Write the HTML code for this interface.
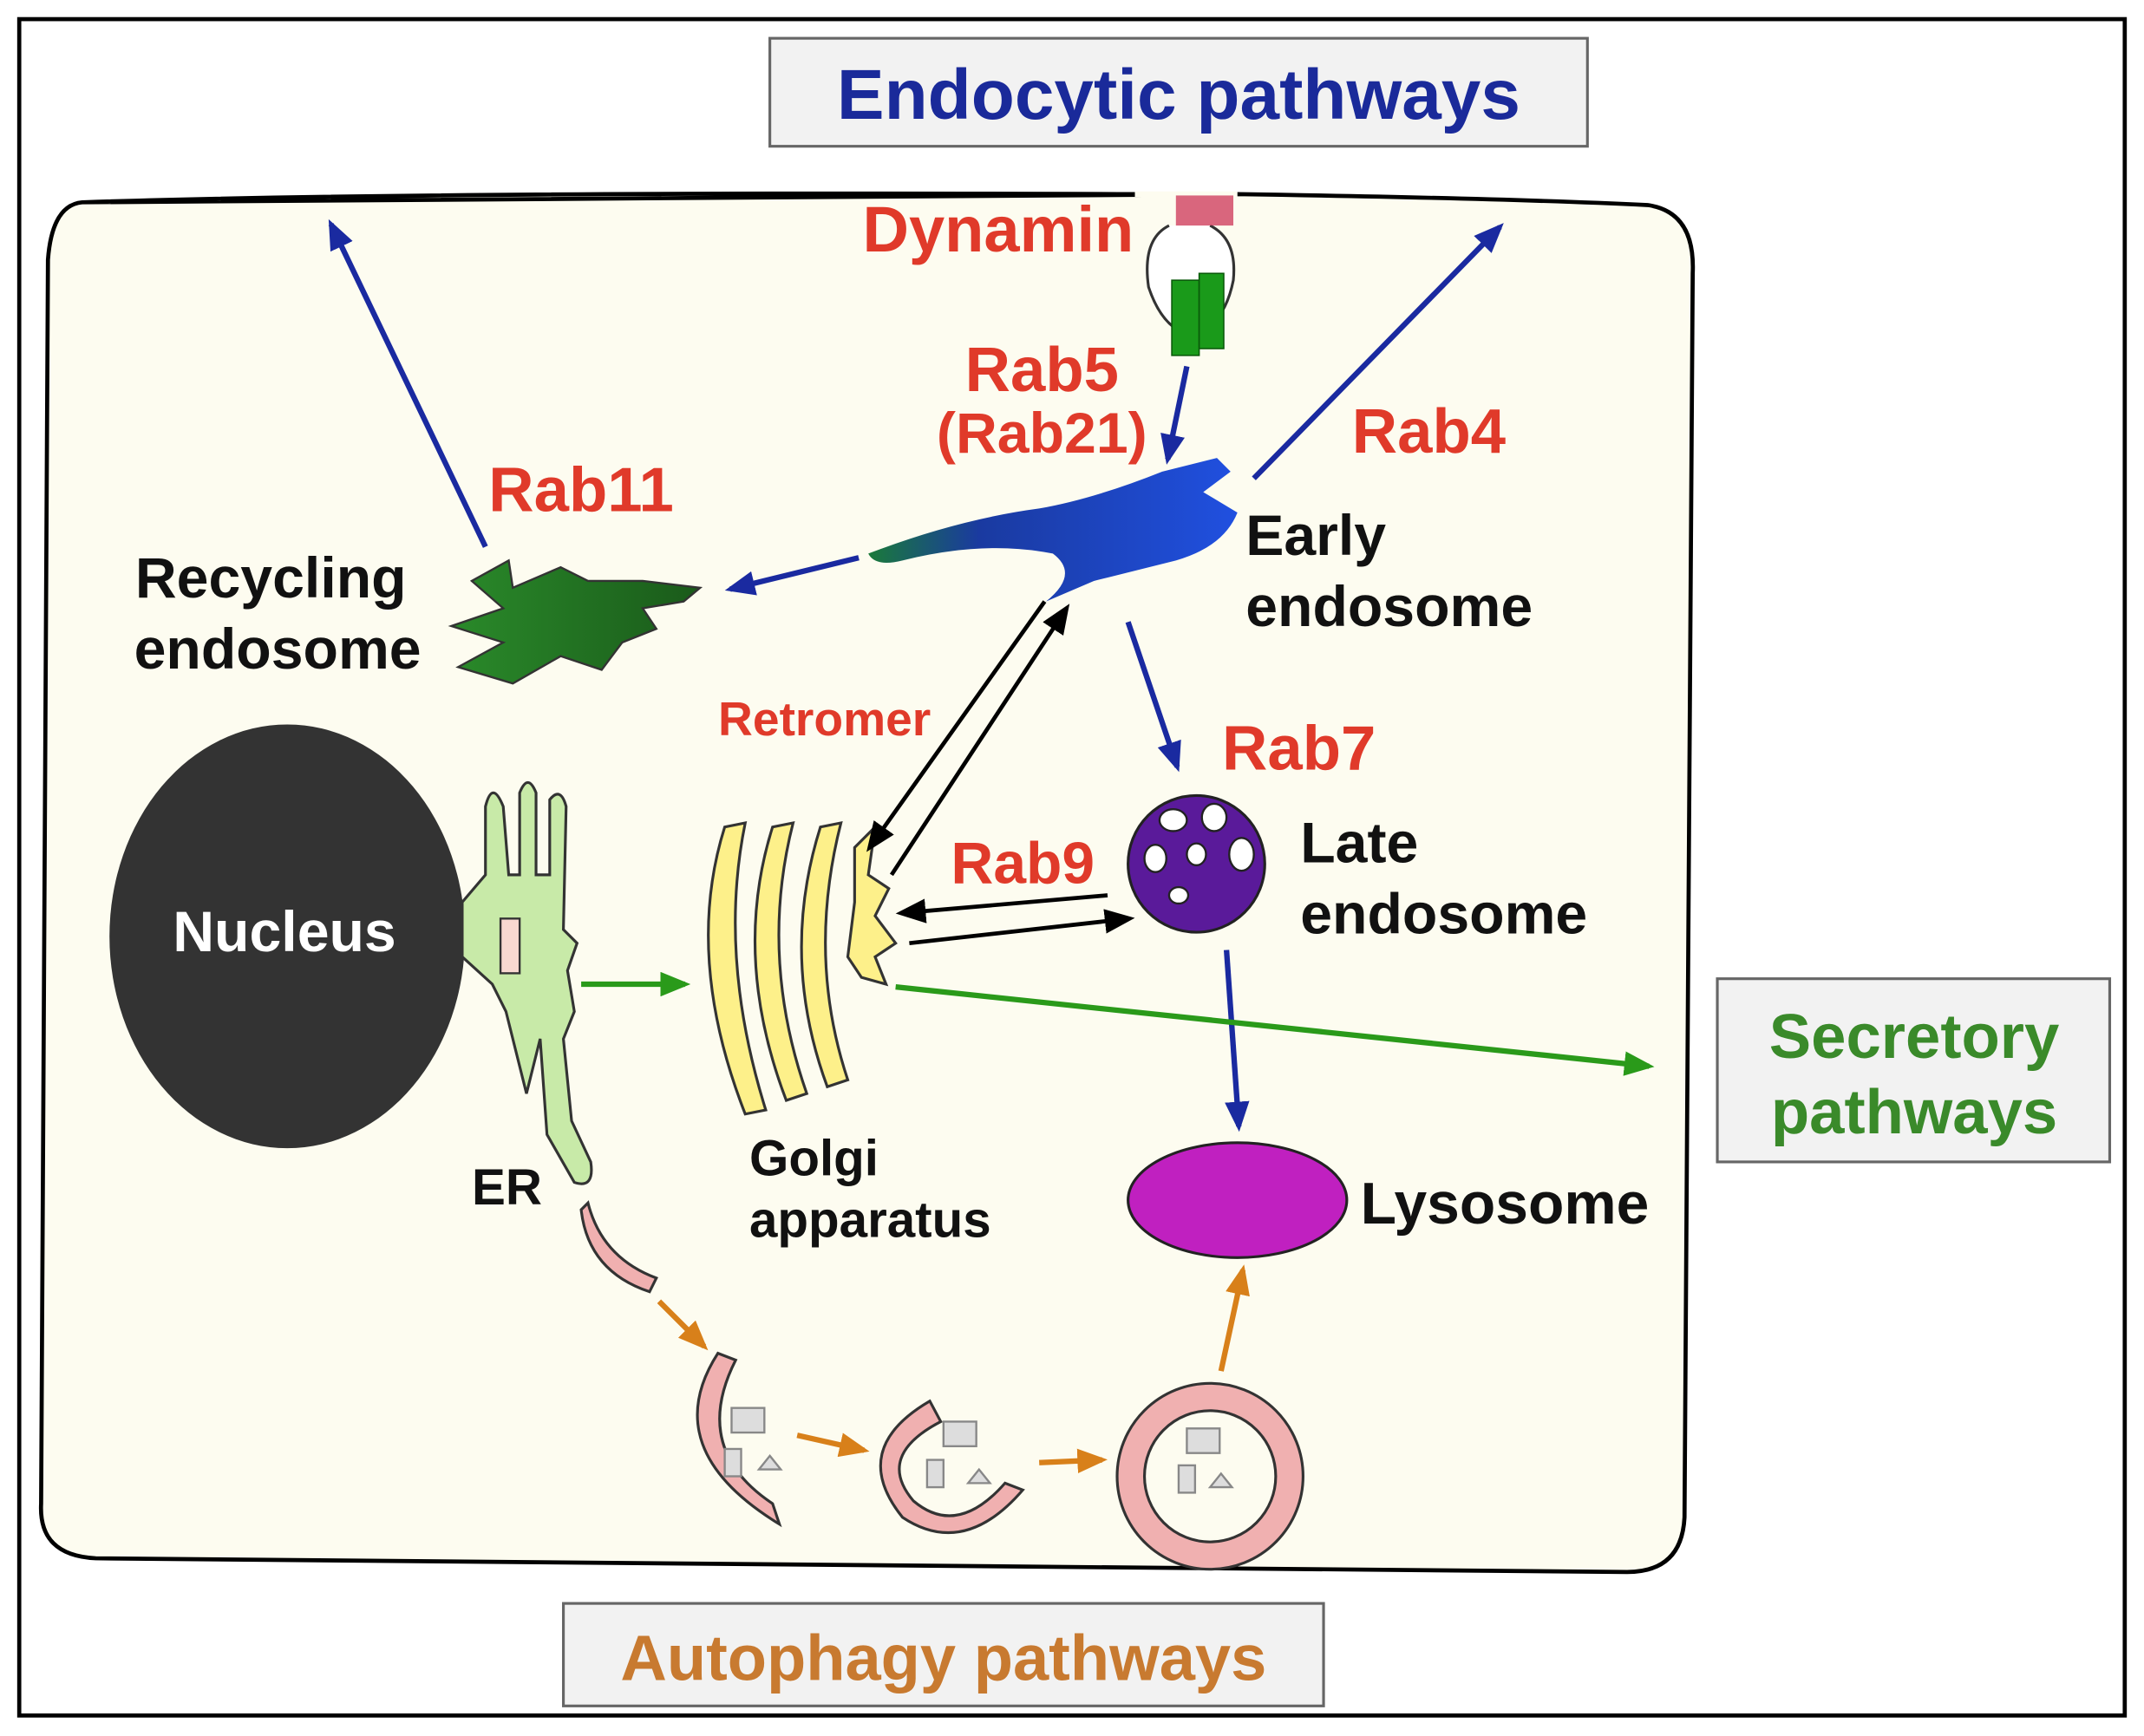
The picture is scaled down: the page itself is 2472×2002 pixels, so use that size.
<!DOCTYPE html>
<html><head><meta charset="utf-8"><style>
html,body{margin:0;padding:0;background:#fff;}
svg{display:block;}
text{font-family:"Liberation Sans",sans-serif;font-weight:bold;}
</style></head><body>
<svg width="2472" height="2002" viewBox="0 0 1568 1270" xmlns="http://www.w3.org/2000/svg">
<defs>
<marker id="ab" markerWidth="24" markerHeight="18" refX="18" refY="9" orient="auto" markerUnits="userSpaceOnUse"><path d="M0,0 L22,9 L0,18 z" fill="#1a2aa0"/></marker>
<marker id="ak" markerWidth="24" markerHeight="18" refX="18" refY="9" orient="auto" markerUnits="userSpaceOnUse"><path d="M0,0 L22,9 L0,18 z" fill="#000"/></marker>
<marker id="ag" markerWidth="24" markerHeight="18" refX="18" refY="9" orient="auto" markerUnits="userSpaceOnUse"><path d="M0,0 L22,9 L0,18 z" fill="#2a9a1a"/></marker>
<marker id="ao" markerWidth="24" markerHeight="18" refX="18" refY="9" orient="auto" markerUnits="userSpaceOnUse"><path d="M0,0 L22,9 L0,18 z" fill="#d8801a"/></marker>
<linearGradient id="ee" x1="0" x2="1" y1="0" y2="0"><stop offset="0" stop-color="#1a7a3a"/><stop offset="0.3" stop-color="#1a3aa0"/><stop offset="1" stop-color="#2050e0"/></linearGradient>
<linearGradient id="re" x1="0" x2="1"><stop offset="0" stop-color="#2a8a2a"/><stop offset="1" stop-color="#1a5a1a"/></linearGradient>
</defs>
<rect x="0" y="0" width="1568" height="1270" fill="#fff"/>
<rect x="14" y="14" width="1540" height="1241" fill="none" stroke="#000" stroke-width="3"/>
<path d="M60,148 Q300,140 830,142 M905,142 Q1100,145 1205,150 Q1240,155 1238,200 L1232,1110 Q1230,1150 1190,1150 L70,1140 Q28,1138 30,1100 L35,190 Q38,150 60,148 Z" fill="#fdfcf0" stroke="#000" stroke-width="3"/>
<path d="M830,142 L905,142" stroke="#fdfcf0" stroke-width="4"/>
<rect x="563" y="28" width="598" height="79" fill="#f2f2f2" stroke="#666" stroke-width="2"/>
<text x="862" y="87" font-size="52" fill="#1a2a9a" text-anchor="middle">Endocytic pathways</text>
<rect x="1256" y="716" width="287" height="134" fill="#f2f2f2" stroke="#666" stroke-width="2"/>
<text x="1400" y="774" font-size="46" fill="#3a8a2a" text-anchor="middle">Secretory</text>
<text x="1400" y="829" font-size="46" fill="#3a8a2a" text-anchor="middle">pathways</text>
<rect x="412" y="1173" width="556" height="75" fill="#f2f2f2" stroke="#666" stroke-width="2"/>
<text x="690" y="1229" font-size="47" fill="#c87a30" text-anchor="middle">Autophagy pathways</text>
<ellipse cx="210" cy="685" rx="130" ry="155" fill="#333"/>
<text x="208" y="696" font-size="42" fill="#fff" text-anchor="middle">Nucleus</text>
<path d="M338,660 L355,640 L355,590 Q360,570 368,590 L372,640 L380,640 L380,580 Q386,565 392,580 L392,640 L402,640 L402,585 Q410,575 414,590 L412,680 L422,690 L415,710 L420,740 L412,760 L418,820 L432,850 Q435,870 420,865 L400,830 L395,760 L385,800 L370,740 L360,720 L338,700 Z" fill="#c8eaa8" stroke="#333" stroke-width="2"/>
<rect x="366" y="672" width="14" height="40" fill="#f8d8d0" stroke="#333" stroke-width="1.5"/>
<path d="M430,880 Q440,920 480,935 L475,945 Q430,930 425,885 Z" fill="#f0b0b0" stroke="#333" stroke-width="2"/>
<g fill="#fdf08a" stroke="#333" stroke-width="2">
<path d="M530,605 Q500,700 545,815 L560,812 Q525,700 545,602 Z"/>
<path d="M565,605 Q535,700 575,805 L590,800 Q555,700 580,602 Z"/>
<path d="M600,605 Q570,700 605,795 L620,790 Q590,700 615,602 Z"/>
<path d="M625,620 L640,605 L635,640 L650,650 L640,670 L655,690 L640,700 L648,720 L630,715 L620,700 L625,660 Z"/>
</g>
<path d="M635,405 Q700,380 760,372 Q800,365 850,345 L890,335 L900,345 L880,360 L905,375 Q895,400 860,410 Q820,420 800,425 L765,440 Q790,420 770,405 Q720,395 660,410 Q640,415 635,405 Z" fill="url(#ee)"/>
<path d="M345,425 L372,410 L375,430 L410,415 L430,425 L470,425 L512,430 L500,440 L470,445 L480,460 L455,470 L440,490 L410,480 L375,500 L335,488 L368,470 L330,458 L368,445 Z" fill="url(#re)" stroke="#333" stroke-width="1.5"/>
<circle cx="875" cy="632" r="50" fill="#5a1a9a" stroke="#222" stroke-width="2"/>
<g fill="#fff" stroke="#222" stroke-width="1.5">
<ellipse cx="858" cy="600" rx="10" ry="8"/><ellipse cx="888" cy="598" rx="9" ry="10"/><ellipse cx="908" cy="625" rx="9" ry="12"/>
<ellipse cx="845" cy="628" rx="8" ry="10"/><ellipse cx="875" cy="625" rx="7" ry="8"/><ellipse cx="862" cy="655" rx="7" ry="6"/>
</g>
<ellipse cx="905" cy="878" rx="80" ry="42" fill="#c020c0" stroke="#222" stroke-width="2"/>
<path d="M855,165 Q835,175 840,210 Q850,240 870,245 Q895,240 902,205 Q905,175 885,165" fill="#fff" stroke="#333" stroke-width="2"/>
<rect x="860" y="143" width="42" height="22" fill="#d04060" opacity="0.8"/>
<rect x="857" y="205" width="20" height="55" fill="#1a9a1a" stroke="#0a5a0a"/>
<rect x="877" y="200" width="18" height="55" fill="#1a9a1a" stroke="#0a5a0a"/>
<g fill="#f0b0b0" stroke="#333" stroke-width="2">
<path d="M525,990 Q480,1060 570,1115 L565,1100 Q505,1060 538,995 Z"/>
<path d="M680,1025 Q620,1060 660,1110 Q705,1140 748,1090 L735,1085 Q700,1125 668,1098 Q640,1065 688,1040 Z"/>
<circle cx="885" cy="1080" r="58" fill="none" stroke="#333" stroke-width="22"/>
<circle cx="885" cy="1080" r="58" fill="none" stroke="#f0b0b0" stroke-width="18"/>
</g>
<g fill="#ddd" stroke="#888" stroke-width="1.5">
<rect x="535" y="1030" width="24" height="18"/><rect x="530" y="1060" width="12" height="20"/><path d="M555,1075 l8,-10 l8,10 z"/>
<rect x="690" y="1040" width="24" height="18"/><rect x="678" y="1068" width="12" height="20"/><path d="M708,1085 l8,-10 l8,10 z"/>
<rect x="868" y="1045" width="24" height="18"/><rect x="862" y="1072" width="12" height="20"/><path d="M885,1088 l8,-10 l8,10 z"/>
</g>
<g stroke="#1a2aa0" stroke-width="4" fill="none" marker-end="url(#ab)">
<line x1="355" y1="400" x2="242" y2="164"/>
<line x1="917" y1="350" x2="1097" y2="166"/>
<line x1="868" y1="268" x2="854" y2="336"/>
<line x1="628" y1="408" x2="534" y2="431"/>
<line x1="825" y1="455" x2="861" y2="561"/>
<line x1="897" y1="695" x2="906" y2="824"/>
</g>
<g stroke="#000" stroke-width="3" fill="none" marker-end="url(#ak)">
<line x1="652" y1="640" x2="780" y2="445"/>
<line x1="764" y1="440" x2="636" y2="620"/>
<line x1="810" y1="655" x2="659" y2="668"/>
<line x1="665" y1="690" x2="826" y2="672"/>
</g>
<g stroke="#2a9a1a" stroke-width="4" fill="none" marker-end="url(#ag)">
<line x1="425" y1="720" x2="501" y2="720"/>
<line x1="655" y1="722" x2="1206" y2="780"/>
</g>
<g stroke="#d8801a" stroke-width="4" fill="none" marker-end="url(#ao)">
<line x1="482" y1="952" x2="515" y2="985"/>
<line x1="583" y1="1050" x2="632" y2="1061"/>
<line x1="760" y1="1070" x2="806" y2="1068"/>
<line x1="893" y1="1003" x2="909" y2="929"/>
</g>
<g fill="#e03a2a">
<text x="730" y="184" font-size="47" text-anchor="middle">Dynamin</text>
<text x="762" y="286" font-size="46" text-anchor="middle">Rab5</text>
<text x="762" y="331" font-size="42" text-anchor="middle">(Rab21)</text>
<text x="1045" y="331" font-size="46" text-anchor="middle">Rab4</text>
<text x="425" y="374" font-size="46" text-anchor="middle">Rab11</text>
<text x="603" y="538" font-size="35" text-anchor="middle">Retromer</text>
<text x="950" y="563" font-size="46" text-anchor="middle">Rab7</text>
<text x="748" y="646" font-size="43" text-anchor="middle">Rab9</text>
</g>
<g fill="#111" font-size="42">
<text x="198" y="437" text-anchor="middle">Recycling</text>
<text x="203" y="489" text-anchor="middle">endosome</text>
<text x="911" y="406">Early</text>
<text x="911" y="458">endosome</text>
<text x="951" y="631">Late</text>
<text x="951" y="683">endosome</text>
<text x="548" y="860" font-size="37">Golgi</text>
<text x="548" y="905" font-size="37">apparatus</text>
<text x="345" y="881" font-size="37">ER</text>
<text x="995" y="895" font-size="43">Lysosome</text>
</g>
</svg>
</body></html>
